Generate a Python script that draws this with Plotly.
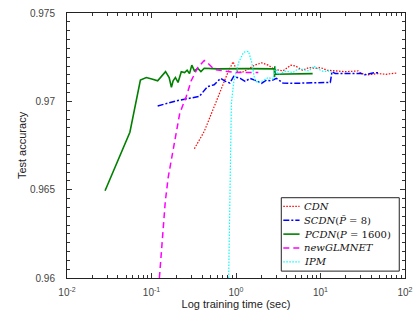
import plotly.graph_objects as go

# ---- data ----
cdn_t = [0.322, 0.421, 0.551, 0.785, 0.923, 1.027, 1.175, 1.467, 1.675, 2.005, 2.40, 2.86, 3.59,
         4.48, 5.12, 6.12, 7.31, 8.74, 10.0, 11.97, 14.94, 19.5, 27.9, 30.5, 36.5, 47.7, 59.7, 81.4]
cdn_acc = [0.96732, 0.96830, 0.96969, 0.97153, 0.97224, 0.97172, 0.97163, 0.97187, 0.97205, 0.97218,
           0.97205, 0.97181, 0.97172, 0.97205, 0.97199, 0.97176, 0.97191, 0.97187, 0.97191, 0.97176,
           0.97172, 0.97168, 0.97172, 0.97157, 0.97150, 0.97157, 0.97153, 0.97161]

scdn_t = [0.1183, 0.2061, 0.368, 0.460, 0.551, 0.657, 0.751, 0.845, 0.940, 1.122, 1.283, 1.467,
          1.754, 2.005, 2.293, 2.62, 3.0, 3.59, 4.69, 13.06, 13.67, 14.94, 30.5, 33.4, 43.6, 49.9]
scdn_acc = [0.96974, 0.97005, 0.97028, 0.97083, 0.97094, 0.97130, 0.97113, 0.97104, 0.97141, 0.97130,
            0.97113, 0.97130, 0.97116, 0.97102, 0.97120, 0.97116, 0.97130, 0.97104, 0.97102, 0.97107,
            0.97168, 0.97157, 0.97157, 0.97150, 0.97163, 0.97161]

pcdn_t = [0.0282, 0.0392, 0.0555, 0.0739, 0.0868, 0.1008, 0.1183, 0.1466, 0.1618, 0.1721, 0.1803,
          0.1918, 0.2061, 0.2251, 0.2466, 0.2642, 0.2818, 0.2998, 0.3223, 0.3522, 0.3846, 0.4209,
          0.601, 1.34, 2.84, 2.86, 2.88, 2.90, 8.07]
pcdn_acc = [0.96494, 0.96654, 0.96825, 0.97120, 0.97135, 0.97127, 0.97116, 0.97168, 0.97135, 0.97080,
            0.97116, 0.97135, 0.97107, 0.97168, 0.97163, 0.97176, 0.97157, 0.97205, 0.97172, 0.97187,
            0.97168, 0.97187, 0.97184, 0.97185, 0.97184, 0.97137, 0.97198, 0.97153, 0.97157]

glm_t = [0.124, 0.134, 0.1456, 0.1578, 0.1722, 0.1918, 0.2158, 0.2572, 0.2942, 0.352, 0.421, 0.460,
         0.551, 0.720, 1.027, 1.343, 1.836]
glm_acc = [0.96000, 0.96239, 0.96433, 0.96571, 0.96671, 0.96804, 0.96932, 0.97026, 0.97115, 0.97191,
           0.97231, 0.97218, 0.97181, 0.97172, 0.97163, 0.97163, 0.97163]

ipm_t = [0.819, 0.840, 0.859, 0.882, 0.940, 1.075, 1.230, 1.406, 1.536, 1.676, 1.836, 2.10, 2.40,
         2.74, 2.94, 3.14, 3.92, 4.69, 5.36, 6.12, 7.31, 8.36, 9.55, 10.9, 12.5, 13.7]
ipm_acc = [0.96000, 0.96433, 0.96765, 0.96987, 0.97109, 0.97220, 0.97278, 0.97283, 0.97220, 0.97115,
           0.97107, 0.97116, 0.97135, 0.97126, 0.97191, 0.97153, 0.97172, 0.97163, 0.97181, 0.97181,
           0.97172, 0.97199, 0.97181, 0.97168, 0.97172, 0.97163]

names = ["<i>CDN</i>", "<i>SCDN</i>(<i>P̄</i> = 8)", "<i>PCDN</i>(<i>P</i> = 1600)",
         "<i>newGLMNET</i>", "<i>IPM</i>"]

y_ticks = [0.96, 0.965, 0.97, 0.975]
y_tick_text = ["0.96", "0.965", "0.97", "0.975"]
x_ticks = [0.01, 0.1, 1, 10, 100]
x_tick_text = ["10<sup>-2</sup>", "10<sup>-1</sup>", "10<sup>0</sup>", "10<sup>1</sup>", "10<sup>2</sup>"]

fig = go.Figure()
series = [
    (cdn_t, cdn_acc, names[0], "#ff0000", "1.5px,1.5px", 1.2),
    (scdn_t, scdn_acc, names[1], "#0000ff", "6px,2px,2px,2px", 1.5),
    (pcdn_t, pcdn_acc, names[2], "#008000", "solid", 1.6),
    (glm_t, glm_acc, names[3], "#ff00ff", "6px,4px", 1.5),
    (ipm_t, ipm_acc, names[4], "#00ffff", "1.5px,1.5px", 1.2),
]
for t, a, n, c, d, w in series:
    fig.add_trace(go.Scatter(x=t, y=a, mode="lines", name=n, showlegend=False,
                             line=dict(color=c, dash=d, width=w)))

# ---- compact legend box (MATLAB style) ----
lg_x0, lg_x1, lg_y0, lg_y1 = 0.634, 0.983, 0.026, 0.303
row_top, row_step = 0.270, 0.0522
fig.add_shape(type="rect", xref="paper", yref="paper", x0=lg_x0, x1=lg_x1, y0=lg_y0, y1=lg_y1,
              line=dict(color="#222", width=1), fillcolor="white", layer="above")
for i, (t, a, n, c, d, w) in enumerate(series):
    yy = row_top - i * row_step
    fig.add_shape(type="line", xref="paper", yref="paper", x0=0.640, x1=0.688, y0=yy, y1=yy,
                  line=dict(color=c, dash=d, width=w), layer="above")
    fig.add_annotation(xref="paper", yref="paper", x=0.694, y=yy, text=n, showarrow=False,
                       xanchor="left", yanchor="middle",
                       font=dict(family="DejaVu Serif", size=10, color="#111"))

minor_x = [m * 10 ** e for e in (-2, -1, 0, 1) for m in range(2, 10)]
minor_y = [0.96 + 0.0005 * i for i in range(31)]

fig.update_xaxes(type="log", range=[-2, 2], tickvals=x_ticks, ticktext=x_tick_text,
                 ticks="inside", ticklen=5, tickcolor="#333", tickwidth=1,
                 mirror="allticks", showline=True, linecolor="#222", linewidth=1,
                 showgrid=False, zeroline=False, ticklabelstandoff=5,
                 tickfont=dict(family="Liberation Sans", size=10, color="#444"),
                 minor=dict(tickvals=minor_x, ticks="inside", ticklen=3, tickcolor="#333", showgrid=False),
                 title=dict(text="Log training time (sec)", standoff=3,
                            font=dict(family="Liberation Sans", size=11, color="#222")))
fig.update_yaxes(range=[0.96, 0.975], tickvals=y_ticks, ticktext=y_tick_text,
                 ticks="inside", ticklen=5, tickcolor="#333", tickwidth=1,
                 mirror="allticks", showline=True, linecolor="#222", linewidth=1,
                 showgrid=False, zeroline=False, ticklabelstandoff=9,
                 tickfont=dict(family="Liberation Sans", size=10, color="#444"),
                 minor=dict(tickvals=minor_y, ticks="inside", ticklen=3, tickcolor="#333", showgrid=False),
                 title=dict(text="Test accuracy", standoff=1,
                            font=dict(family="Liberation Sans", size=11, color="#222")))

fig.update_layout(
    width=420, height=320,
    margin=dict(l=67, r=9, t=7, b=42),
    paper_bgcolor="white", plot_bgcolor="white",
    showlegend=False,
)

fig.write_html("out.html")
